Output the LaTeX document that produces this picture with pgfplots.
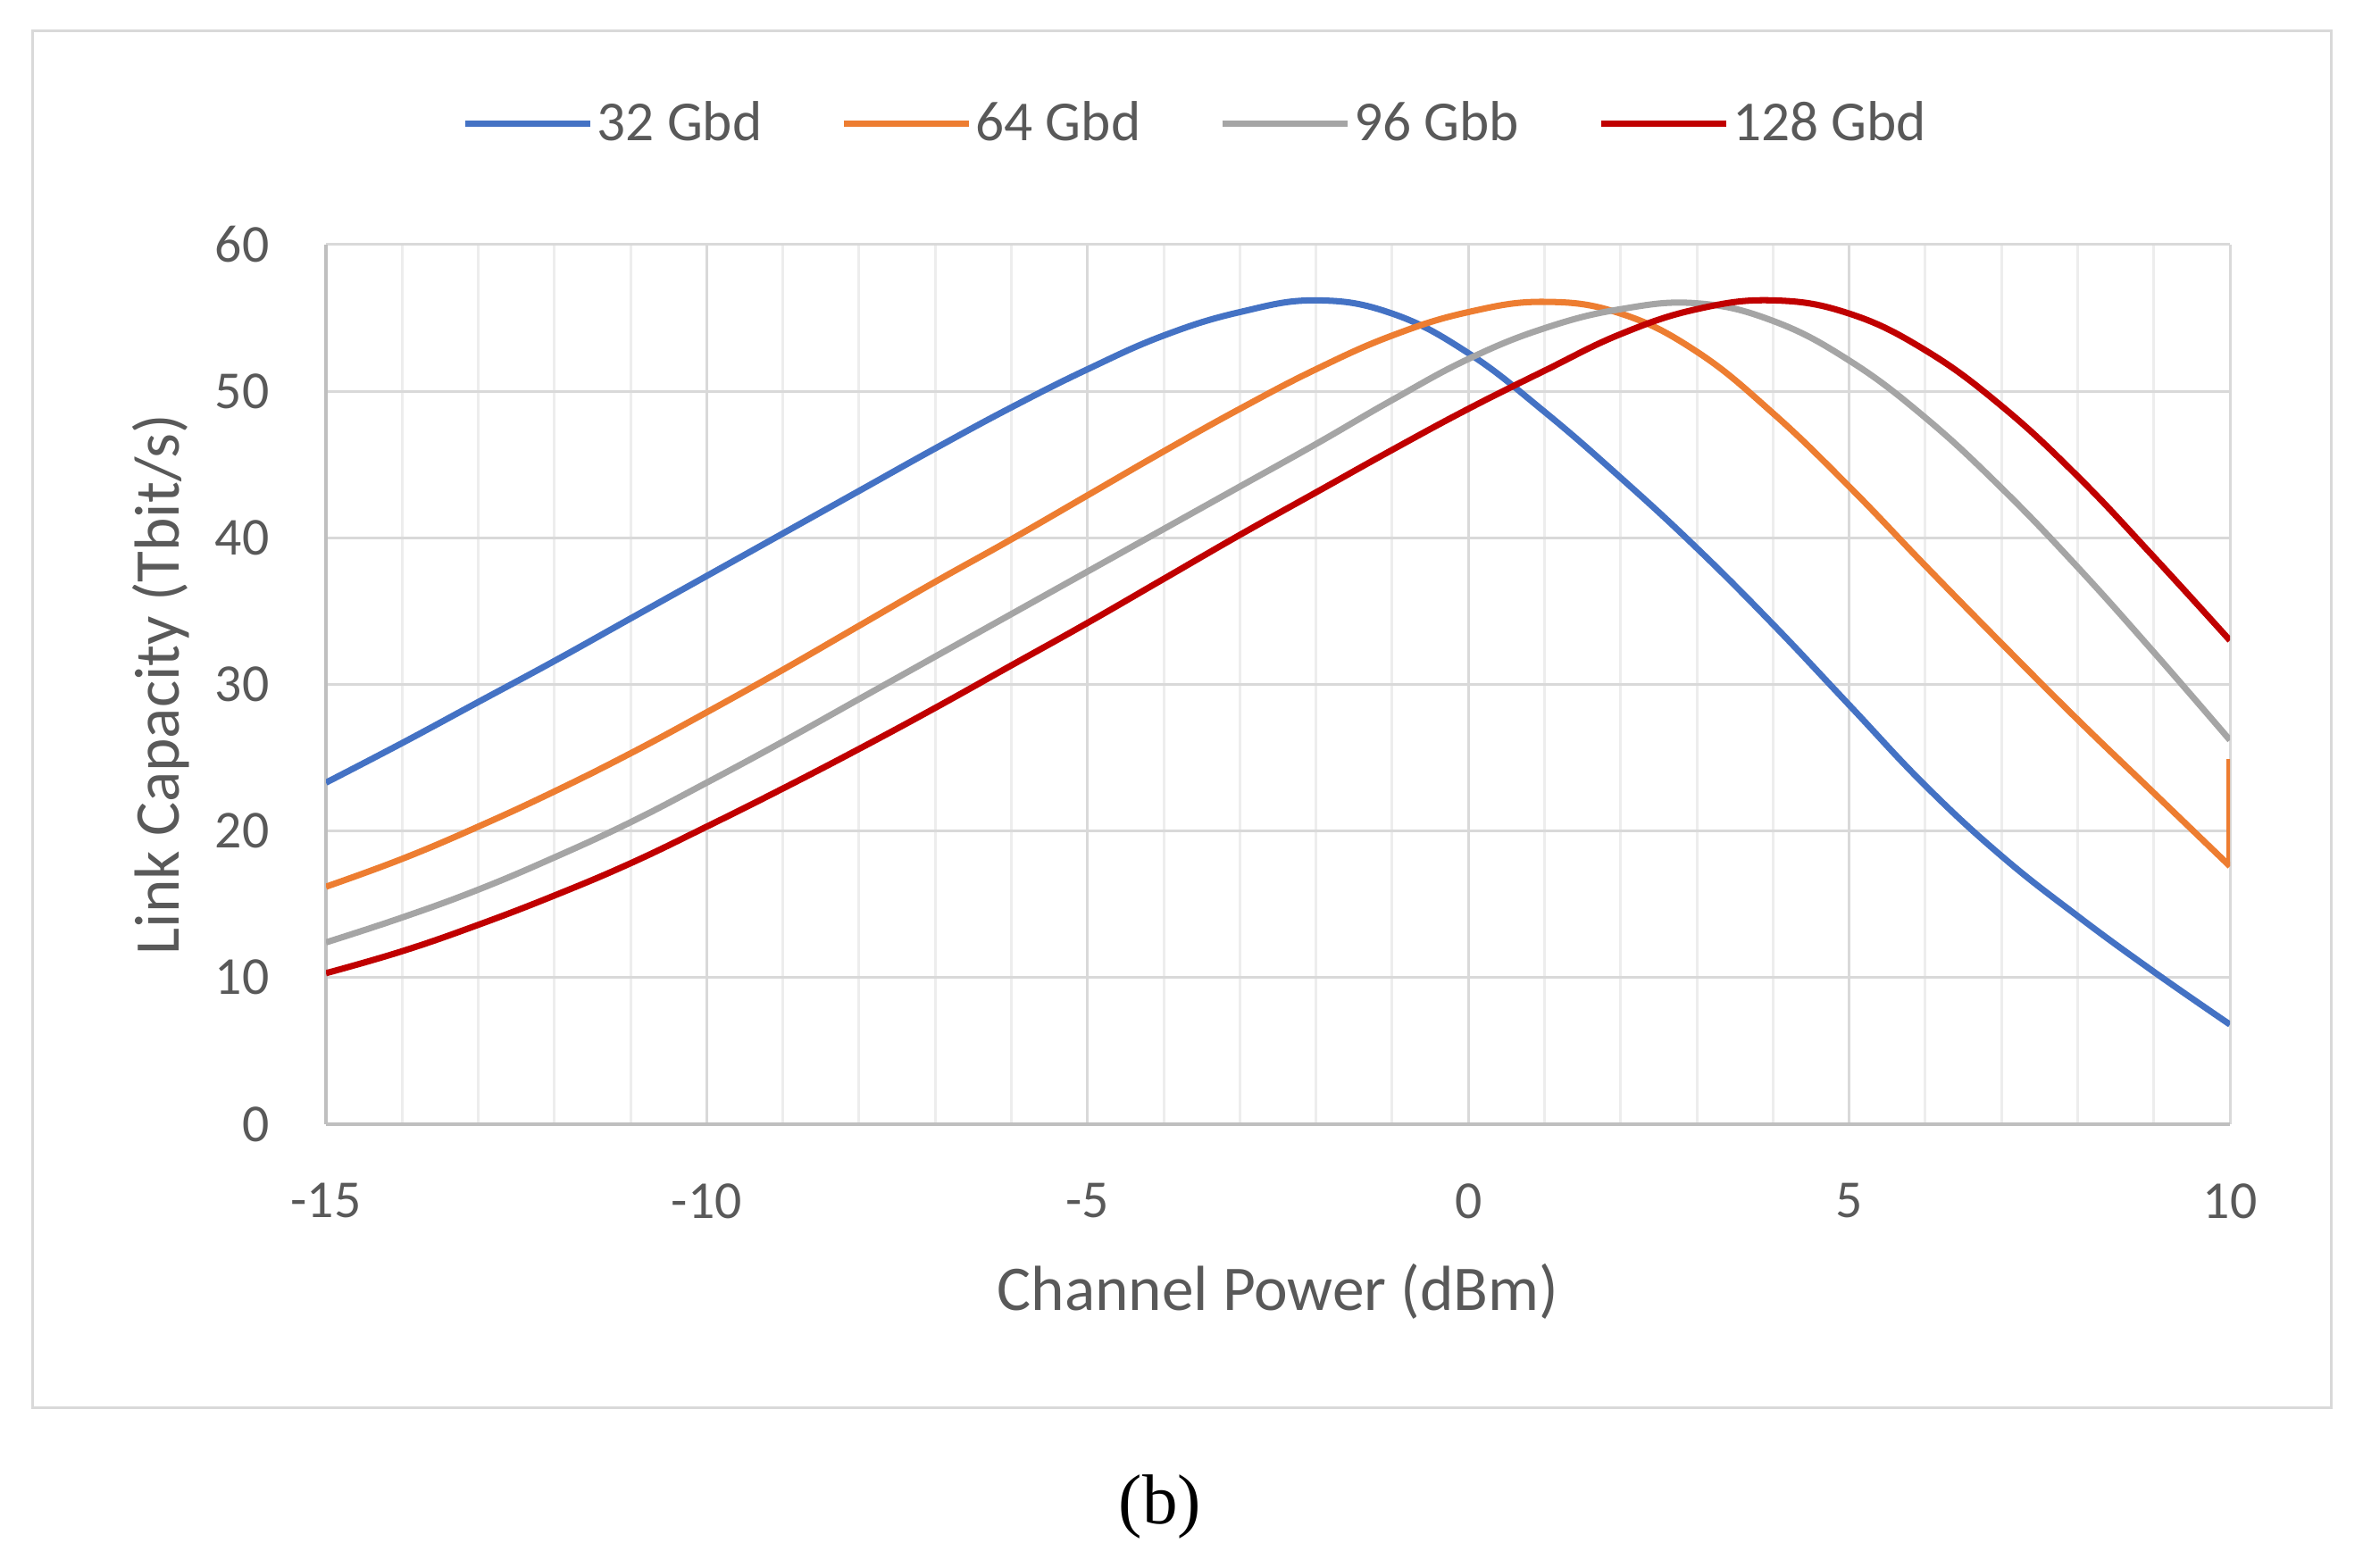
\documentclass[border=0pt]{standalone}
\usepackage{fontspec}
\setmainfont{Carlito}
\newfontfamily\capfont{Liberation Serif}
\usepackage{pgfplots}
\pgfplotsset{compat=1.18}

\definecolor{cblue}{HTML}{4472C4}
\definecolor{corange}{HTML}{ED7D31}
\definecolor{cgray}{HTML}{A5A5A5}
\definecolor{cred}{HTML}{C00000}
\definecolor{txtgray}{HTML}{595959}
\definecolor{gridmaj}{HTML}{D9D9D9}
\definecolor{gridmin}{HTML}{EDEDED}
\definecolor{axgray}{HTML}{BFBFBF}

\begin{document}
\begin{tikzpicture}
  % page and chart area frame
  \path[use as bounding box] (0,0) rectangle (26.46cm,17.56cm);
  \draw[gridmaj, line width=0.03cm] (0.37cm,1.79cm) rectangle (26.10cm,17.21cm);

  \begin{axis}[
    at={(3.65cm,4.97cm)}, anchor=south west,
    width=21.32cm, height=9.85cm, scale only axis,
    xmin=-15, xmax=10, ymin=0, ymax=60,
    xtick={-15,-10,...,10},
    minor xtick={-14,-13,...,9},
    ytick={0,10,...,60},
    xmajorgrids, xminorgrids, ymajorgrids,
    major grid style={gridmaj, line width=0.03cm},
    minor grid style={gridmin, line width=0.03cm},
    axis x line=bottom, axis y line=left,
    axis line style={-, axgray, line width=0.035cm},
    major tick length=0pt, minor tick length=0pt,
    /pgf/number format/assume math mode=true,
    ticklabel style={font=\fontsize{17}{20}\selectfont, text=txtgray},
    xticklabel style={anchor=center, yshift=-0.86cm},
    yticklabel style={anchor=east, inner sep=0pt, xshift=-0.63cm},
    xlabel={Channel Power (dBm)},
    ylabel={Link Capacity (Tbit/s)},
    label style={font=\fontsize{20.3}{24}\selectfont, text=txtgray},
    xlabel style={at={(axis description cs:0.5,-0.19)}, anchor=center},
    ylabel style={at={(axis description cs:-0.0868,0.5)}, anchor=center},
    legend style={at={(axis description cs:0.457,1.138)}, anchor=center,
      draw=none, fill=none, legend columns=4,
      font=\fontsize{18}{21}\selectfont, text=txtgray,
      nodes={inner sep=0.04cm},
      /tikz/every even column/.append style={column sep=0.84cm}},
    legend image code/.code={\draw[#1] (0cm,0cm) -- (1.4cm,0cm);},
    every axis plot/.append style={line width=2pt, line join=round},
  ]

    \addplot[cblue, smooth, tension=0.7] coordinates {
      (-15,23.3) (-14,26.0) (-13,28.8) (-12,31.6) (-11,34.5) (-10,37.4)
      (-9,40.3) (-8,43.2) (-7,46.1) (-6,48.9) (-5,51.5) (-4,53.8)
      (-3,55.4) (-2,56.2) (-1,55.3) (0,52.6) (1,48.6) (2,44.1)
      (3,39.3) (4,34.1) (5,28.6) (6,23.1) (7,18.3) (8,14.2)
      (9,10.4) (10,6.8)};
    \addlegendentry{32 Gbd}

    \addplot[corange, smooth, tension=0.7] coordinates {
      (-15,16.2) (-14,18.1) (-13,20.3) (-12,22.7) (-11,25.3) (-10,28.1)
      (-9,31.0) (-8,34.0) (-7,37.0) (-6,39.9) (-5,42.9) (-4,45.9)
      (-3,48.8) (-2,51.5) (-1,53.8) (0,55.4) (1,56.1) (2,55.3)
      (3,52.7) (4,48.5) (5,43.5) (6,38.1) (7,32.8) (8,27.6)
      (9,22.6) (10,17.6)};
    \addlegendentry{64 Gbd}
    \addplot[corange, forget plot] coordinates {(10,17.6) (10,24.9)};

    \addplot[cgray, smooth, tension=0.7] coordinates {
      (-15,12.4) (-14,14.1) (-13,16.0) (-12,18.2) (-11,20.6) (-10,23.3)
      (-9,26.1) (-8,29.0) (-7,31.9) (-6,34.8) (-5,37.7) (-4,40.6)
      (-3,43.5) (-2,46.4) (-1,49.4) (0,52.2) (1,54.3) (2,55.6)
      (3,56.0) (4,54.8) (5,52.1) (6,48.2) (7,43.4) (8,38.0)
      (9,32.2) (10,26.2)};
    \addlegendentry{96 Gbb}

    \addplot[cred, smooth, tension=0.7] coordinates {
      (-15,10.3) (-14,11.8) (-13,13.6) (-12,15.6) (-11,17.8) (-10,20.3)
      (-9,22.9) (-8,25.6) (-7,28.4) (-6,31.3) (-5,34.2) (-4,37.2)
      (-3,40.2) (-2,43.1) (-1,46.0) (0,48.8) (1,51.4) (2,53.9)
      (3,55.6) (4,56.2) (5,55.3) (6,52.8) (7,49.0) (8,44.2)
      (9,38.7) (10,33.0)};
    \addlegendentry{128 Gbd}

  \end{axis}

  \node[font=\capfont\fontsize{22.5}{27}\selectfont, inner sep=0pt] at (12.99cm,0.68cm) {(b)};
\end{tikzpicture}
\end{document}
